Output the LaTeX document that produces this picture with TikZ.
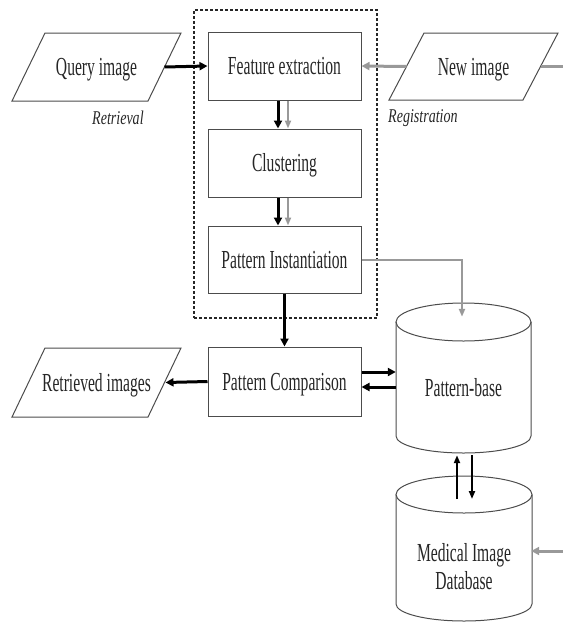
\documentclass[tikz,border=0pt]{standalone}
\usepackage{fontspec}
\setmainfont{Liberation Serif}[FakeStretch=0.6]
\newfontfamily\labfont{Liberation Serif}[FakeStretch=0.72]
\usetikzlibrary{arrows.meta,calc}
\begin{document}
\begin{tikzpicture}[x=1pt,y=-1pt,
  every node/.style={text=black!85, inner sep=0pt},
  txtbase/.style={font=\fontsize{26}{28}\selectfont},
  txt/.style={txtbase, text height=17pt, text depth=0pt},
  box/.style={txt, draw=black!70, line width=1pt, minimum width=153pt, minimum height=68pt},
  lab/.style={font=\labfont\itshape\fontsize{19.5}{22}\selectfont},
  shapeline/.style={draw=black!70, line width=1pt},
  blk/.style={draw=black, line width=3pt, -{Triangle[length=8pt,width=8pt]}},
  blkthin/.style={draw=black, line width=2pt, -{Triangle[length=8pt,width=6pt]}},
  gry/.style={draw=black!40, line width=3pt, -{Triangle[length=8pt,width=8pt]}},
  grythin/.style={draw=black!40, line width=2pt, -{Triangle[length=8pt,width=6pt]}},
  grystub/.style={draw=black!40, line width=3pt},
]
\useasboundingbox (0,0) rectangle (563,622);

% dashed frame
\node[draw=black!85, line width=1.3pt, dash pattern=on 3pt off 2pt,
      minimum width=183pt, minimum height=308pt] (frame) at (285.5,164) {};

% process boxes
\node[box] (fe) at (284.5,66) {Feature extraction};
\node[box] (cl) at (284.5,163) {Clustering};
\node[box, minimum height=67pt] (pi) at (284.5,259.5) {Pattern Instantiation};
\node[box, minimum height=69pt] (pc) at (284.5,381.5) {Pattern Comparison};

% parallelograms
\node[txt] (q) at (96.5,67) {Query image};
\draw[shapeline] ($(q)+(-84.5,34)$) -- ++(33,-68) -- ++(136,0) -- ++(-33,68) -- cycle;
\node[txt] (r) at (96.5,382.5) {Retrieved images};
\draw[shapeline] ($(r)+(-84.5,34.5)$) -- ++(33,-69) -- ++(136,0) -- ++(-33,69) -- cycle;
\node[txt] (n) at (473.5,66.5) {New image};
\draw[shapeline] ($(n)+(-84.5,33.5)$) -- ++(35,-67) -- ++(134,0) -- ++(-35,67) -- cycle;

% labels
\node[lab, anchor=west] (ret) at (92,118) {Retrieval};
\node[lab, anchor=west] (reg) at (388,118) {Registration};

% Pattern-base cylinder
\draw[shapeline] (463.5,322) ellipse [x radius=67.5pt, y radius=19pt];
\draw[shapeline] (396,322) -- (396,436) arc[start angle=180, end angle=360, x radius=67.5pt, y radius=17pt] -- (531,322);
\node[txt, minimum width=135pt, minimum height=131pt] (pb) at (463.5,387.5) {Pattern-base};

% Medical Image Database cylinder
\draw[shapeline] (464,494.5) ellipse [x radius=68pt, y radius=18.5pt];
\draw[shapeline] (396,494.5) -- (396,604) arc[start angle=180, end angle=360, x radius=68pt, y radius=17pt] -- (532,494.5);
\node[txtbase, align=center] (db) at (464,567) {Medical Image\\[0pt]Database};
\coordinate (dbt) at (464,499);
\coordinate (dbin) at (563,551);
\coordinate (nout) at (563,66.5);

% connectors
\draw[blk] ($(q)+(68,0)$) -- (fe.west);
\draw[gry] ($(n)+(-67,0)$) -- (fe.east);
\draw[grystub] ($(n)+(67,0)$) -- (nout);
\draw[blk] ($(fe.south)+(-6.5,0)$) -- ($(cl.north)+(-6.5,0)$);
\draw[grythin] ($(fe.south)+(3.5,0)$) -- ($(cl.north)+(3.5,0)$);
\draw[blk] ($(cl.south)+(-6.5,0)$) -- ($(pi.north)+(-6.5,0)$);
\draw[grythin] ($(cl.south)+(3.5,0)$) -- ($(pi.north)+(3.5,0)$);
\draw[blk] (pi.south) -- (pc.north);
\draw[grythin] (pi.east) -| ($(pb.north)+(-1.5,-5)$);
\draw[blk] ($(pc.east)+(0,-9.5)$) -- ($(pc.east -| pb.west)+(0,-9.5)$);
\draw[blk] ($(pc.east -| pb.west)+(0,5.5)$) -- ($(pc.east)+(0,5.5)$);
\draw[blk] (pc.west) -- ($(r)+(69,0)$);
\draw[blkthin] ($(dbt)+(-7,0)$) -- ($(pb.south)+(-6.5,2)$);
\draw[blkthin] ($(pb.south)+(8.5,2)$) -- ($(dbt)+(8,0)$);
\draw[gry] (dbin) -- (dbin -| pb.east);
\end{tikzpicture}
\end{document}
